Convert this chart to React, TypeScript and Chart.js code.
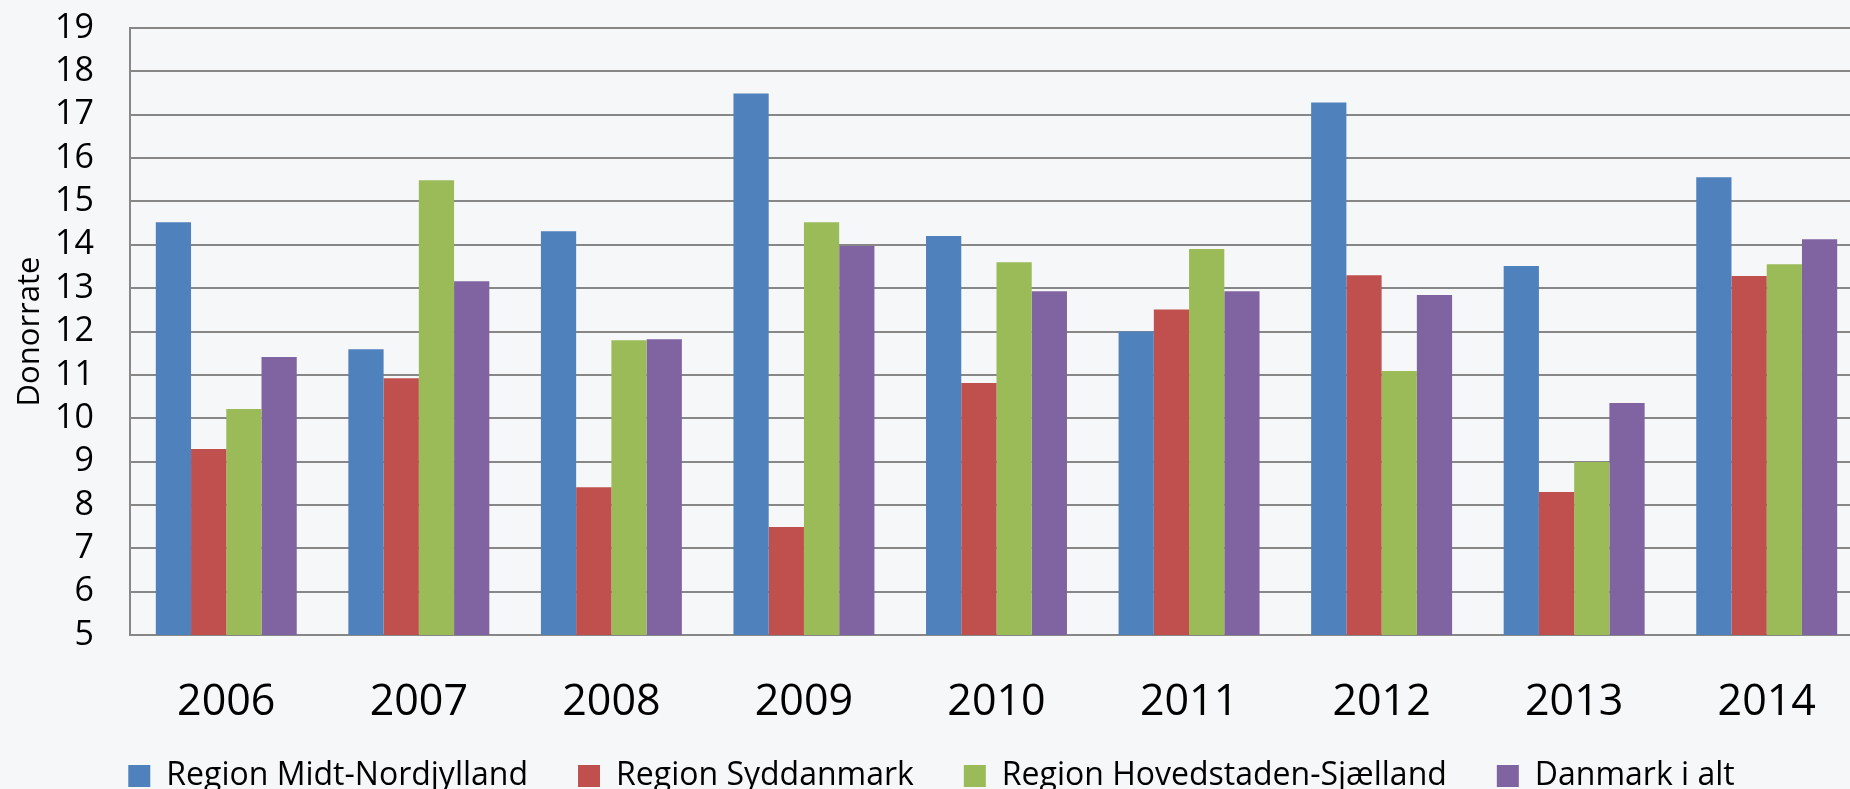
import React, { useEffect, useRef } from "react";
import { Chart, registerables } from "chart.js";

Chart.register(...registerables);

const years = ["2006", "2007", "2008", "2009", "2010", "2011", "2012", "2013", "2014"];
const midtNordjylland = [14.52, 11.59, 14.31, 17.49, 14.2, 12.0, 17.28, 13.51, 15.56];
const syddanmark = [9.29, 10.92, 8.41, 7.49, 10.81, 12.51, 13.3, 8.3, 13.28];
const hovedstadenSjaelland = [10.21, 15.49, 11.8, 14.52, 13.6, 13.9, 11.09, 8.99, 13.55];
const danmarkIAlt = [11.41, 13.16, 11.82, 13.97, 12.93, 12.93, 12.84, 10.35, 14.13];

const seriesNames = [
  "Region Midt-Nordjylland",
  "Region Syddanmark",
  "Region Hovedstaden-Sjælland",
  "Danmark i alt",
];
const seriesColors = ["#4F81BD", "#C0504D", "#9BBB59", "#8064A2"];

const yMin = 5;
const yMax = 19;
const yStep = 1;
const yTitle = "Donorrate";

const BG = "#F5F7F9";
const GRID = "#878787";
const FONT = "'Open Sans', sans-serif";

const LEGEND_PAD = 50;
const LEGEND_FONT = 32;
const LEGEND_TEXT_CENTER = 776;

const legendShift = {
  id: "legendShift",
  afterLayout(chart: any) {
    const lg = chart.legend;
    if (!lg) return;
    const top = LEGEND_TEXT_CENTER - LEGEND_PAD - LEGEND_FONT / 2;
    lg.top = top;
    lg.bottom = chart.height;
    lg.height = chart.height - top;
  },
};

export default function App() {
  const ref = useRef<HTMLCanvasElement | null>(null);

  useEffect(() => {
    if (!ref.current) return;
    const values = [midtNordjylland, syddanmark, hovedstadenSjaelland, danmarkIAlt];
    const chart = new Chart(ref.current, {
      type: "bar",
      data: {
        labels: years,
        datasets: seriesNames.map((name, i) => ({
          label: name,
          data: values[i],
          backgroundColor: seriesColors[i],
          borderWidth: 0,
          categoryPercentage: 0.732,
          barPercentage: 1.0,
        })),
      },
      plugins: [legendShift],
      options: {
        responsive: false,
        animation: false,
        devicePixelRatio: 1,
        layout: { padding: { left: 0, right: 12, top: 28, bottom: 0 } },
        plugins: {
          tooltip: { enabled: false },
          legend: {
            position: "bottom",
            maxHeight: 64,
            labels: {
              boxWidth: 22,
              boxHeight: 22,
              padding: LEGEND_PAD,
              color: "#000",
              font: { family: FONT, size: LEGEND_FONT },
            },
          },
        },
        scales: {
          x: {
            grid: { display: false, drawTicks: false },
            border: { display: true, color: GRID, width: 2 },
            ticks: {
              color: "#000",
              padding: 42,
              font: { family: FONT, size: 43 },
              maxRotation: 0,
              autoSkip: false,
            },
            afterFit: (scale: any) => {
              scale.height = 90;
            },
          },
          y: {
            min: yMin,
            max: yMax,
            grid: {
              color: GRID,
              lineWidth: 2,
              drawTicks: true,
              tickLength: 33,
              tickColor: "rgba(0,0,0,0)",
            },
            border: { display: true, color: GRID, width: 2 },
            ticks: {
              stepSize: yStep,
              autoSkip: false,
              color: "#000",
              padding: 3,
              font: { family: FONT, size: 34 },
            },
            title: {
              display: true,
              text: yTitle,
              color: "#000",
              padding: { top: 12, bottom: 0 },
              font: { family: FONT, size: 31 },
            },
            afterFit: (scale: any) => {
              scale.width = 130;
            },
          },
        },
      },
    });
    return () => chart.destroy();
  }, []);

  return (
    <div
      style={{
        position: "absolute",
        left: 0,
        top: 0,
        width: 1850,
        height: 789,
        overflow: "hidden",
        background: BG,
      }}
    >
      <canvas ref={ref} width={1875} height={789} style={{ display: "block", width: 1875, height: 789 }} />
    </div>
  );
}
